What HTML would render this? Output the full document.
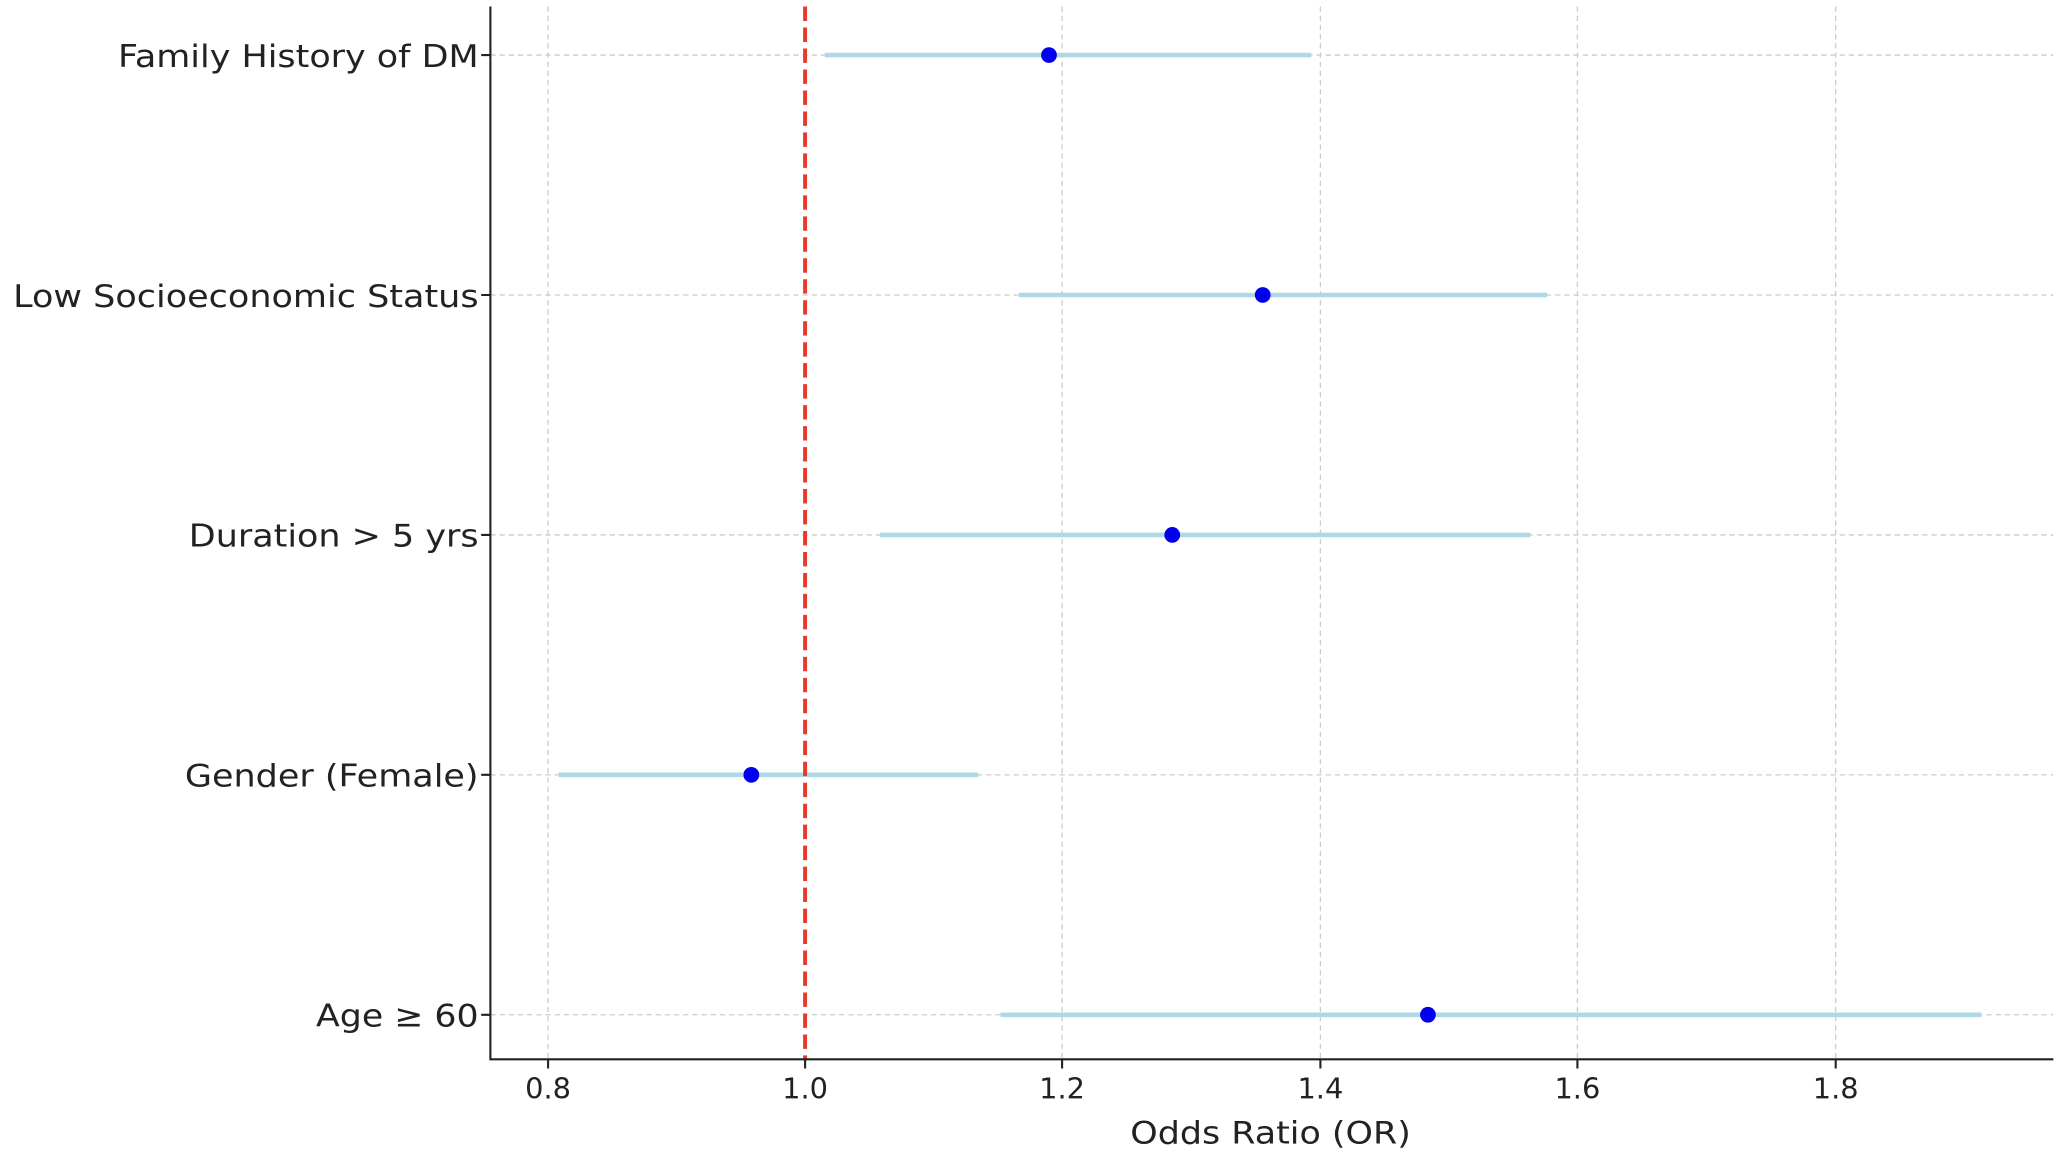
<!DOCTYPE html>
<html><head><style>html,body{margin:0;padding:0;background:#fff}svg{display:block}</style></head>
<body>
<svg width="2056" height="1159" viewBox="0 0 1568 884" preserveAspectRatio="none" xmlns="http://www.w3.org/2000/svg" font-family="DejaVu Sans, sans-serif" fill="#222">
<g stroke="#ccc" stroke-width="1" stroke-dasharray="4,3">
<line x1="418" y1="5" x2="418" y2="808"/><line x1="810" y1="5" x2="810" y2="808"/><line x1="1007" y1="5" x2="1007" y2="808"/><line x1="1203" y1="5" x2="1203" y2="808"/><line x1="1400" y1="5" x2="1400" y2="808"/>
<line x1="374" y1="42" x2="1566" y2="42"/><line x1="374" y1="225" x2="1566" y2="225"/><line x1="374" y1="408" x2="1566" y2="408"/><line x1="374" y1="591" x2="1566" y2="591"/><line x1="374" y1="774" x2="1566" y2="774"/>
</g>
<g stroke="#add8e6" stroke-width="3.5">
<line x1="629" y1="42" x2="1000" y2="42"/>
<line x1="777" y1="225" x2="1180" y2="225"/>
<line x1="671" y1="408" x2="1167" y2="408"/>
<line x1="426" y1="591" x2="746" y2="591"/>
<line x1="763" y1="774" x2="1511" y2="774"/>
</g>
<line x1="614" y1="5" x2="614" y2="808" stroke="#e8392a" stroke-width="3" stroke-dasharray="11,5"/>
<g fill="#0000ee">
<circle cx="800" cy="42" r="6"/><circle cx="963" cy="225" r="6"/><circle cx="894" cy="408" r="6"/><circle cx="573" cy="591" r="6"/><circle cx="1089" cy="774" r="6"/>
</g>
<g stroke="#222" stroke-width="1.6" fill="none">
<path d="M374 5 V808 H1566"/>
<path d="M367 42h7M367 225h7M367 408h7M367 591h7M367 774h7"/>
<path d="M418 808v7M614 808v7M810 808v7M1007 808v7M1203 808v7M1400 808v7"/>
</g>
<g font-size="24" text-anchor="end">
<text x="365" y="51" textLength="275" lengthAdjust="spacingAndGlyphs">Family History of DM</text>
<text x="365" y="234" textLength="355" lengthAdjust="spacingAndGlyphs">Low Socioeconomic Status</text>
<text x="365" y="417" textLength="221" lengthAdjust="spacingAndGlyphs">Duration &gt; 5 yrs</text>
<text x="365" y="600" textLength="224" lengthAdjust="spacingAndGlyphs">Gender (Female)</text>
<text x="365" y="783" textLength="124" lengthAdjust="spacingAndGlyphs">Age ≥ 60</text>
</g>
<g font-size="22" text-anchor="middle">
<text x="418" y="838">0.8</text><text x="614" y="838">1.0</text><text x="810" y="838">1.2</text><text x="1007" y="838">1.4</text><text x="1203" y="838">1.6</text><text x="1400" y="838">1.8</text>
<text x="969" y="872" font-size="24" textLength="214" lengthAdjust="spacingAndGlyphs">Odds Ratio (OR)</text>
</g>
</svg>
</body></html>
